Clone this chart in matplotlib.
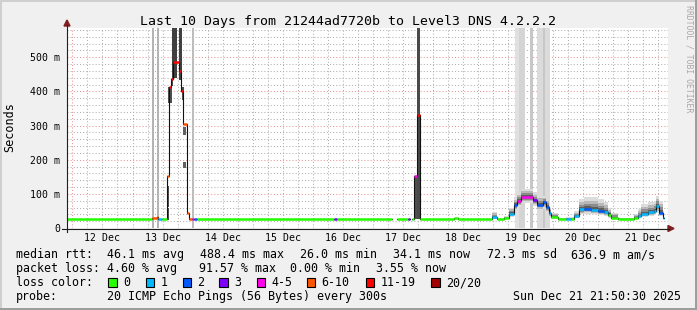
import numpy as np
import matplotlib
matplotlib.use("Agg")
import matplotlib.pyplot as plt
from matplotlib.patches import Rectangle, Polygon
from matplotlib.lines import Line2D

# smokeping style latency graph, last 10 days

W, H = 697, 310
MONO = "DejaVu Sans Mono"

# time is day of December (fractional)
t_first, t_last = 11.91, 21.91
day_labels = ["12 Dec", "13 Dec", "14 Dec", "15 Dec", "16 Dec",
              "17 Dec", "18 Dec", "19 Dec", "20 Dec", "21 Dec"]
y_ticks_ms = [0, 100, 200, 300, 400, 500]
y_tick_labels = ["0", "100 m", "200 m", "300 m", "400 m", "500 m"]
y_top = 585.7

loss_labels = ["0", "1", "2", "3", "4-5", "6-10", "11-19", "20/20"]
loss_colors = ["#26ff00", "#00b8ff", "#0059ff", "#7e00ff",
               "#ff00ea", "#ff5500", "#ff0000", "#a10000"]

# median rtt: segment edges, median (ms), loss class index
seg_t = [11.910, 13.327, 13.415, 13.432, 13.498, 13.572, 13.610, 13.638, 13.677,
         13.777, 13.810, 13.843, 13.905, 13.943, 13.993, 14.027, 14.077, 16.348,
         16.405, 17.322, 17.405, 17.582, 17.610, 17.655, 17.682, 17.738, 17.777,
         18.343, 18.410, 18.988, 19.072, 19.182, 19.265, 19.348, 19.405, 19.460,
         19.672, 19.727, 19.822, 19.877, 19.932, 19.960, 20.072, 20.207, 20.293,
         20.348, 20.427, 20.510, 20.627, 20.743, 20.843, 20.910, 20.960, 21.077,
         21.343, 21.410, 21.460, 21.577, 21.677, 21.710, 21.760, 21.827, 21.850]
seg_ms = [26, 29, 32, 26, 26, 153, 413, 436, 486, 461, 402, 305, 44, 27, 26, 26,
          26, 26, 26, np.nan, 26, 26, np.nan, 26, 152, 331, 26, 28, 26,
          32, 25, 28, 42, 67, 78, 91, 81, 68, 76, 61, 45, 33, 25, 25, 26, 34,
          55, 56, 53, 50, 46, 38, 30, 25, 29, 34, 42, 46, 50, 64, 45, 30]
seg_loss = [0, 5, 5, 1, 0, 5, 6, 6, 6, 6, 6, 5, 5, 5, 4, 2,
            0, 3, 0, 0, 0, 3, 0, 0, 4, 6, 0, 0, 0,
            1, 0, 0, 1, 2, 4, 4, 3, 2, 2, 2, 1, 0, 0, 1, 0, 1,
            1, 2, 1, 2, 1, 0, 0, 0, 0, 1, 1, 1, 1, 1, 2, 1]

# smoke spread (ms) for the segments from 18.988 on
smoke_from = 29
smoke_lo = [26, 24, 25, 32, 50, 62, 72, 65, 52, 55, 45, 32, 27, 24, 24, 24, 28,
            40, 42, 40, 38, 34, 30, 26, 24, 25, 28, 32, 34, 38, 45, 34, 25]
smoke_hi = [48, 28, 35, 60, 90, 105, 115, 105, 95, 95, 85, 60, 45, 30, 32, 32, 50,
            85, 90, 92, 85, 75, 60, 45, 30, 40, 55, 70, 75, 80, 95, 80, 50]

# dense smoke blocks around the two spikes
blk_t0 = [13.572, 13.572, 13.593, 13.660, 13.665, 13.777, 13.822, 13.843, 13.843, 17.682, 17.738]
blk_t1 = [13.605, 13.605, 13.660, 13.677, 13.738, 13.827, 13.860, 13.893, 13.893, 17.738, 17.777]
blk_lo = [23, 62, 366, 415, 440, 433, 375, 272, 175, 26, 26]
blk_hi = [60, 123, 413, 440, 600, 600, 412, 297, 194, 152, 600]
blk_density = [0.69, 0.69, 0.69, 0.69, 0.75, 0.75, 0.69, 0.62, 0.62, 0.69, 0.71]

# full height smoke columns (pings beyond the top)
bar_t0 = [13.327, 13.410, 13.988, 19.360, 19.427, 19.610, 19.738, 19.822, 19.865]
bar_t1 = [13.360, 13.443, 14.022, 19.427, 19.527, 19.660, 19.822, 19.865, 19.943]
bar_density = [0.30, 0.30, 0.26, 0.12, 0.17, 0.22, 0.14, 0.22, 0.14]

rtt_stats = ["46.1 ms avg", "488.4 ms max", "26.0 ms min", "34.1 ms now", "72.3 ms sd", "636.9 m am/s"]
loss_stats = ["4.60 % avg", "91.57 % max", "0.00 % min", "3.55 % now"]
probe_text = "20 ICMP Echo Pings (56 Bytes) every 300s"
stamp_text = "Sun Dec 21 21:50:30 2025"
title = "Last 10 Days from 21244ad7720b to Level3 DNS 4.2.2.2"


def fx(x):
    return x / W


def fy(y):
    return 1 - y / H


fig = plt.figure(figsize=(W / 100, H / 100), dpi=100, facecolor="#f0f0f0")
ax = fig.add_axes([fx(67), fy(228), (668 - 67) / W, 200 / H])
ax.set_facecolor("white")
ax.set_xlim(t_first, t_last)
ax.set_ylim(0, y_top)
for s in ax.spines.values():
    s.set_visible(False)

# grid: red every day / 100 ms, gray every 6 h / 20 ms
dots = (0, (1, 2))
for d in np.arange(12, 22):
    ax.axvline(d, color="#eb9595", lw=0.75, ls=dots, zorder=0.6)
for d in np.arange(12, t_last, 0.25):
    if d % 1:
        ax.axvline(d, color="#b0b0b0", lw=0.75, ls=dots, zorder=0.5)
for v in np.arange(20, y_top, 20):
    if v % 100:
        ax.axhline(v, color="#b0b0b0", lw=0.75, ls=dots, zorder=0.5)
    else:
        ax.axhline(v, color="#eb9595", lw=0.75, ls=dots, zorder=0.6)

ax.set_xticks(np.arange(12.5, 22, 1))
ax.set_xticklabels(day_labels, family=MONO, fontsize=7.1)
ax.set_yticks(y_ticks_ms)
ax.set_yticklabels(y_tick_labels, family=MONO, fontsize=7.1)
ax.tick_params(axis="x", length=0, pad=3.5)
ax.tick_params(axis="y", length=0, pad=5)

# smoke
for a, b, lev in zip(bar_t0, bar_t1, bar_density):
    ax.axvspan(a, b, color=str(1 - lev), lw=0, zorder=1)
for a, b, lo, hi, lev in zip(blk_t0, blk_t1, blk_lo, blk_hi, blk_density):
    ax.fill_between([a, b], lo, hi, color=str(1 - lev), lw=0, zorder=1.2)

st = np.array(seg_t[smoke_from:])
med = np.array(seg_ms[smoke_from:], dtype=float)
lo = np.array(smoke_lo, dtype=float)
hi = np.array(smoke_hi, dtype=float)
for frac, shade in [(1.0, "#dcdcdc"), (0.7, "#b8b8b8"), (0.45, "#8c8c8c"), (0.22, "#5e5e5e")]:
    y0 = med - frac * (med - lo)
    y1 = med + frac * (hi - med)
    ax.fill_between(st, np.append(y0, y0[-1]), np.append(y1, y1[-1]),
                    step="post", color=shade, lw=0, zorder=1.1)

# median line: thin dark steps + loss coloured segments
ms = np.array(seg_ms, dtype=float)
ax.step(seg_t, np.append(ms, ms[-1]), where="post", color="#111111", lw=0.8, zorder=2)
ax.hlines(ms, seg_t[:-1], seg_t[1:], colors=[loss_colors[c] for c in seg_loss],
          lw=1.8, capstyle="butt", zorder=3)

# axes with arrows
fig.add_artist(Line2D([fx(62), fx(669)], [fy(228.5), fy(228.5)], color="#1f1f1f", lw=0.8))
fig.add_artist(Line2D([fx(67), fx(67)], [fy(232), fy(25)], color="#1f1f1f", lw=0.8))
fig.add_artist(Polygon([(fx(668), fy(225.5)), (fx(674), fy(228.5)), (fx(668), fy(231.5))],
                       closed=True, color="#801f1f", transform=fig.transFigure))
fig.add_artist(Polygon([(fx(64), fy(26)), (fx(67), fy(20)), (fx(70), fy(26))],
                       closed=True, color="#801f1f", transform=fig.transFigure))

# titles
fig.text(fx(347.5), fy(24.5), title, ha="center", va="baseline", family=MONO, fontsize=9.5)
fig.text(fx(10), fy(127), "Seconds", rotation=90, ha="center", va="center",
         family=MONO, fontsize=8.5)
fig.text(fx(689), fy(5), "RRDTOOL / TOBI OETIKER", rotation=270, ha="center", va="top",
         family=MONO, fontsize=5.9, color="#a8a8a8")

# legend
lg = dict(family=MONO, fontsize=8.35, va="baseline")
fig.text(fx(16), fy(258), "median rtt:", **lg)
for s, x in zip(rtt_stats, [107, 200, 300, 393, 487, 571]):
    fig.text(fx(x), fy(258), s, **lg)
fig.text(fx(16), fy(272), "packet loss:", **lg)
for s, x in zip(loss_stats, [107, 199, 290, 376]):
    fig.text(fx(x), fy(272), s, **lg)
fig.text(fx(16), fy(286), "loss color:", **lg)
box_x = [108.3, 145.7, 182.7, 219.3, 256.7, 306.7, 365.7, 431]
for lab, c, x in zip(loss_labels, loss_colors, box_x):
    fig.add_artist(Rectangle((fx(x), fy(286.7)), 8.5 / W, 8.5 / H, facecolor=c,
                             edgecolor="black", lw=0.8, transform=fig.transFigure))
    fig.text(fx(x + 14.7), fy(286), lab, **lg)
fig.text(fx(16), fy(300), "probe:", **lg)
fig.text(fx(107), fy(300), probe_text, **lg)
fig.text(fx(513), fy(300), stamp_text, **lg)

# 3d border
for (x, y, w, h, c) in [(0, 0, W, 2, "#cfcfcf"), (0, 0, 2, H, "#cfcfcf"),
                        (0, H - 2, W, 2, "#9e9e9e"), (W - 2, 0, 2, H, "#9e9e9e")]:
    fig.add_artist(Rectangle((fx(x), fy(y + h)), w / W, h / H, color=c, lw=0,
                             transform=fig.transFigure))

fig.savefig("out.png", dpi=100, facecolor=fig.get_facecolor())
